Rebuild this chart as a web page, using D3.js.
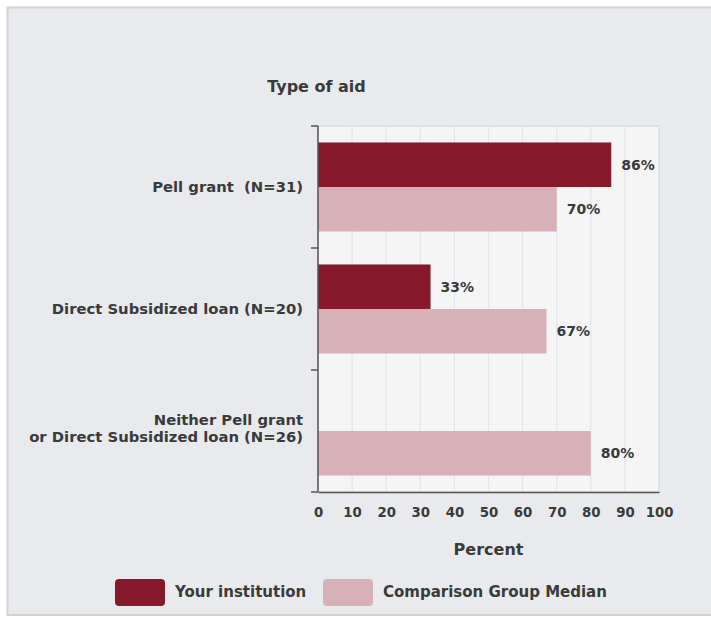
<!DOCTYPE html>
<html><head><meta charset="utf-8">
<script src="https://cdn.jsdelivr.net/npm/d3@7"></script>
<style>
html,body{margin:0;padding:0;background:#fff;}
text{font-family:"DejaVu Sans",sans-serif;fill:#3a3a3a;font-weight:bold;white-space:pre;}
</style></head>
<body><svg id="c" width="711" height="617"></svg>
<script>
const categories = [["Pell grant  (N=31)"], ["Direct Subsidized loan (N=20)"], ["Neither Pell grant", "or Direct Subsidized loan (N=26)"]];
const yourInstitution = [86, 33, null];
const comparisonMedian = [70, 67, 80];
const seriesNames = ["Your institution", "Comparison Group Median"];
const xTicks = [0,10,20,30,40,50,60,70,80,90,100];
const colors = ["#861a2c", "#d7b1b7"];

const svg = d3.select("#c");
svg.append("rect").attr("x",7.5).attr("y",7.5).attr("width",720).attr("height",607.5)
  .attr("fill","#e9eaee").attr("stroke","#d2d2d4").attr("stroke-width",2);

const m = {left:318, right:659, top:126, bottom:492};
const x = d3.scaleLinear().domain([0,100]).range([m.left, m.right]);
const idx = categories.map((d,i)=>i);
const y = d3.scaleBand().domain(idx).range([m.top, m.bottom]).paddingInner(0.27).paddingOuter(0.135);

svg.append("rect").attr("x",m.left).attr("y",m.top).attr("width",m.right-m.left).attr("height",m.bottom-m.top)
  .attr("fill","#f5f5f5").attr("stroke","#dadbdd").attr("stroke-width",1.5);

// grid
svg.append("g").selectAll("line").data(xTicks.slice(1)).join("line")
  .attr("x1",d=>x(d)).attr("x2",d=>x(d)).attr("y1",m.top).attr("y2",m.bottom)
  .attr("stroke","#e0e5ee").attr("stroke-width",1.2);

const bh = y.bandwidth()/2;
const series = [yourInstitution, comparisonMedian];
series.forEach((vals, s) => {
  const g = svg.append("g");
  g.selectAll("rect").data(vals.map((v,i)=>({v,i})).filter(d=>d.v!=null)).join("rect")
    .attr("x", x(0)).attr("y", d=>y(d.i)+s*bh).attr("width", d=>x(d.v)-x(0)).attr("height", bh)
    .attr("fill", colors[s]);
  g.selectAll("text").data(vals.map((v,i)=>({v,i})).filter(d=>d.v!=null)).join("text")
    .attr("x", d=>x(d.v)+10).attr("y", d=>y(d.i)+s*bh+bh/2).attr("dy","0.35em")
    .attr("font-size",14)
    .text(d=>d.v+"%");
});

// x axis
const xa = svg.append("g").attr("transform",`translate(0,${m.bottom})`)
  .call(d3.axisBottom(x).tickValues(xTicks).tickSize(0).tickPadding(16));
xa.select(".domain").attr("stroke","#555").attr("stroke-width",1.5);
xa.selectAll("text").attr("font-size",13.3).attr("fill","#444")
  .style("font-family","'DejaVu Sans',sans-serif").style("font-weight","bold");

// y axis
const bounds = [0,1,2,3].map(i=>m.top + i*(m.bottom-m.top)/3);
svg.append("line").attr("x1",m.left).attr("x2",m.left).attr("y1",m.top).attr("y2",m.bottom).attr("stroke","#555").attr("stroke-width",1.5);
svg.append("g").selectAll("line").data(bounds).join("line")
  .attr("x1",m.left-7).attr("x2",m.left).attr("y1",d=>d).attr("y2",d=>d).attr("stroke","#555").attr("stroke-width",1.5);

const cl = svg.append("g");
categories.forEach((lines,i)=>{
  const cy = y(i)+y.bandwidth()/2 - (lines.length>1 ? 3 : 0);
  const t = cl.append("text").attr("x",303).attr("text-anchor","end").attr("font-size",14.8);
  lines.forEach((ln,j)=>{
    t.append("tspan").attr("x",303).attr("y", cy + (j-(lines.length-1)/2)*17).attr("dy","0.35em").text(ln);
  });
});

svg.append("text").attr("x",316.5).attr("y",86).attr("dy","0.35em").attr("text-anchor","middle")
  .attr("font-size",16).attr("fill","#333").text("Type of aid");
svg.append("text").attr("x",(m.left+m.right)/2).attr("y",549).attr("dy","0.35em").attr("text-anchor","middle")
  .attr("font-size",16).attr("fill","#333").text("Percent");

// legend
const leg = [{x:115},{x:323}];
leg.forEach((l,i)=>{
  svg.append("rect").attr("x",l.x).attr("y",579).attr("width",50).attr("height",27).attr("rx",4)
    .attr("fill",colors[i]);
  svg.append("text").attr("x",l.x+60).attr("y",592).attr("dy","0.35em").attr("font-size",15)
    .text(seriesNames[i]);
});
</script></body></html>
